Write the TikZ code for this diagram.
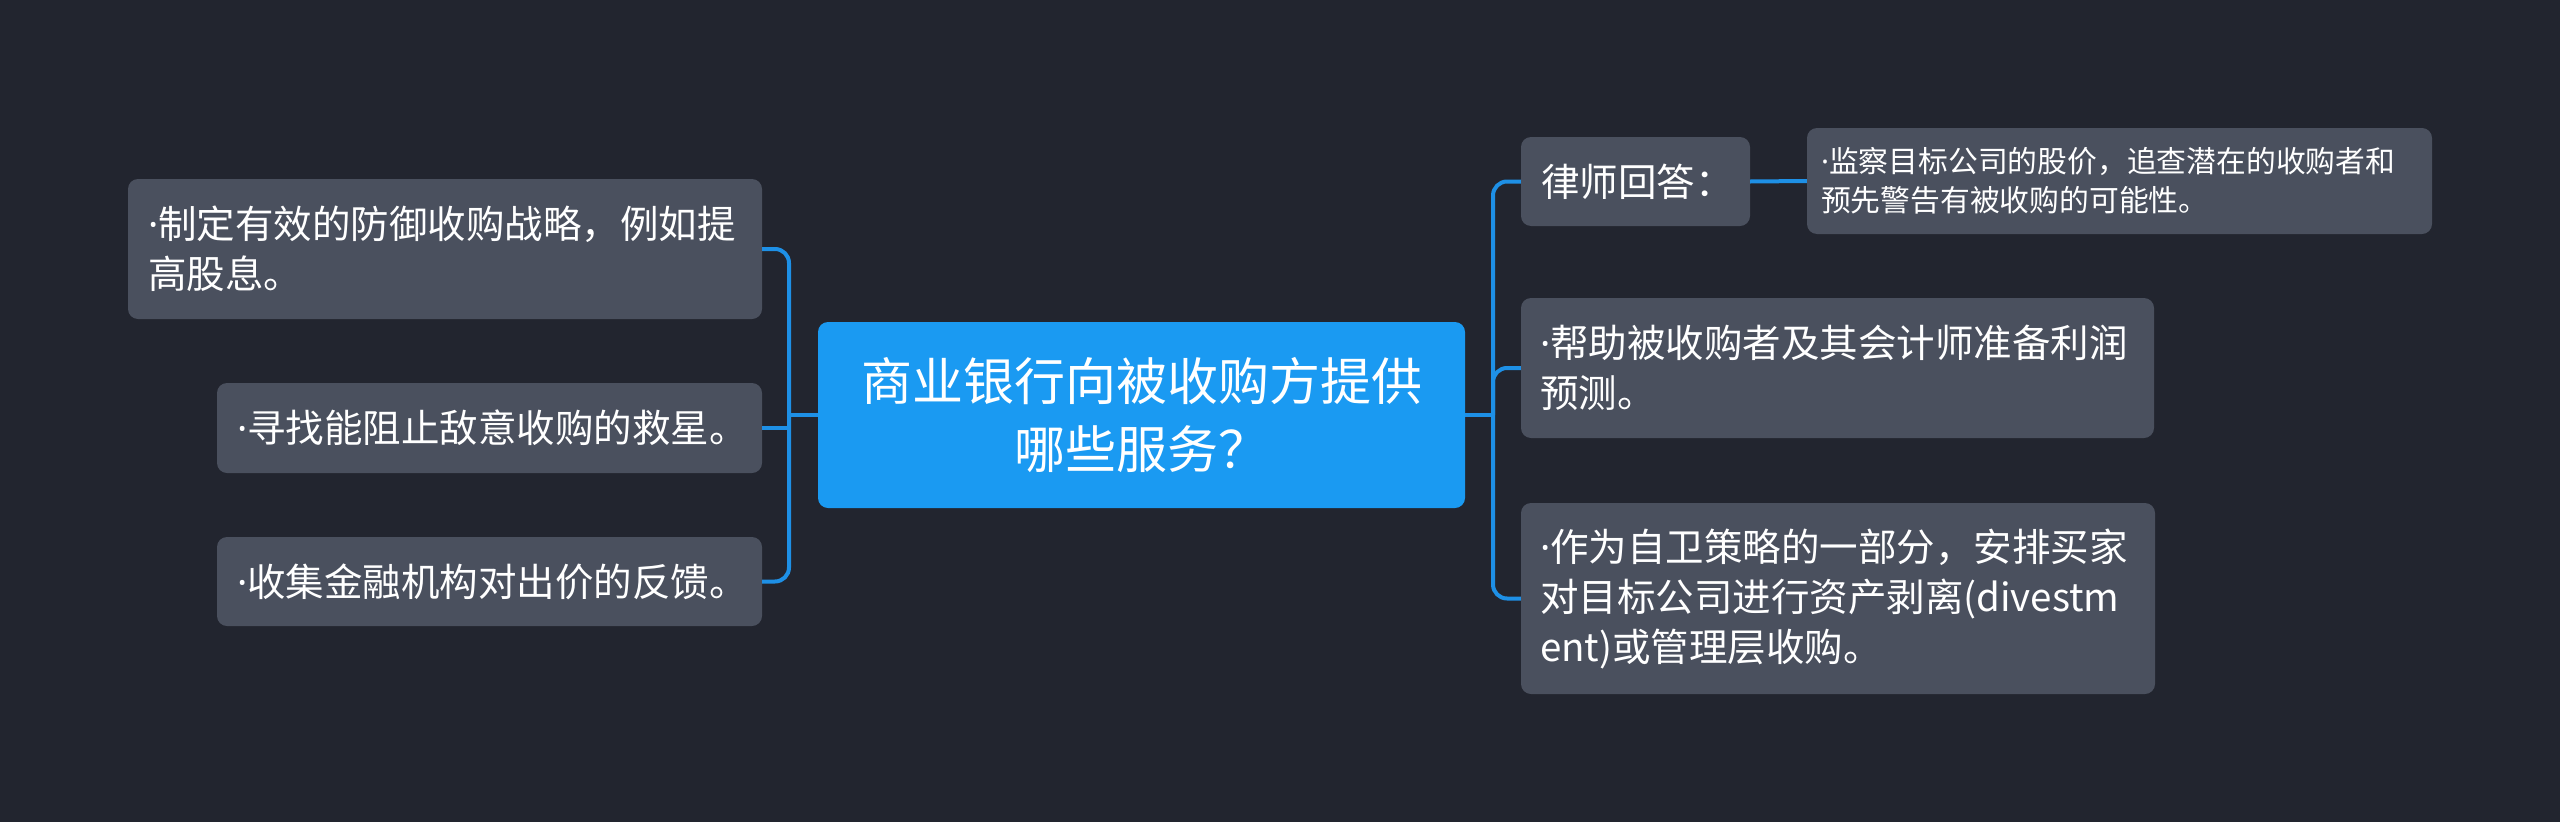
\documentclass[tikz,border=0pt]{standalone}
\usepackage{fontspec}
\newfontfamily\cjk{Noto Sans CJK SC}
\newfontfamily\latinf{Noto Sans}
\newcommand\mdot{{\latinf ·}}
\definecolor{bgc}{HTML}{22252F}
\definecolor{leafc}{HTML}{4A505E}
\definecolor{rootc}{HTML}{1A9AF2}
\definecolor{linkc}{HTML}{1E90E6}
\begin{document}
\begin{tikzpicture}[x=1pt,y=-1pt,
  box/.style={draw=none, rounded corners=10pt, text=white, inner ysep=0pt, anchor=center},
  leaf/.style={box, fill=leafc, align=left, inner xsep=20pt, font=\cjk\fontsize{38.5}{50}\selectfont},
  small/.style={leaf, inner xsep=14pt, font=\cjk\fontsize{29.8}{39}\selectfont},
  rootbox/.style={box, fill=rootc, align=center, inner xsep=13.5pt, font=\cjk\fontsize{51}{68}\selectfont},
  link/.style={draw=linkc, line width=4pt},
  curvelink/.style={link, rounded corners=14pt}]
\fill[bgc] (0,0) rectangle (2560,822);
\useasboundingbox (0,0) rectangle (2560,822);

\node[rootbox, text width=620pt, minimum height=186pt] (root) at (1141.5,415) {商业银行向被收购方提供\\哪些服务？};

\node[leaf, text width=594pt, minimum height=140pt] (L1) at (445,249) {\mdot 制定有效的防御收购战略，例如提\\高股息。};
\node[leaf, text width=505pt, minimum height=90pt] (L2) at (489.5,428) {\mdot 寻找能阻止敌意收购的救星。};
\node[leaf, text width=505pt, minimum height=89pt] (L3) at (489.5,581.5) {\mdot 收集金融机构对出价的反馈。};

\node[leaf, text width=189pt, minimum height=89pt] (R1) at (1635.5,181.5) {律师回答：};
\node[small, text width=597pt, minimum height=106pt] (R1c) at (2119.5,181) {\mdot 监察目标公司的股价，追查潜在的收购者和\\预先警告有被收购的可能性。};
\node[leaf, inner xsep=19pt, text width=595pt, minimum height=140pt] (R2) at (1837.5,368) {\mdot 帮助被收购者及其会计师准备利润\\预测。};
\node[leaf, inner xsep=19pt, text width=596pt, minimum height=191pt] (R3) at (1838,598.5) {\mdot 作为自卫策略的一部分，安排买家\\对目标公司进行资产剥离(divestm\\ent)或管理层收购。};

\coordinate (lj) at (789,415);
\coordinate (rj) at (1493,415);
\draw[link] (root.west) -- (lj);
\draw[curvelink] (lj) |- (L1.east);
\draw[link] (lj) |- (L2.east);
\draw[curvelink] (lj) |- (L3.east);

\draw[link] (root.east) -- (rj);
\draw[curvelink] (rj) |- (R1.west);
\draw[curvelink] (rj) |- (R2.west);
\draw[curvelink] (rj) |- (R3.west);
\draw[link] (R1.east) -- (R1c.west);
\end{tikzpicture}
\end{document}
